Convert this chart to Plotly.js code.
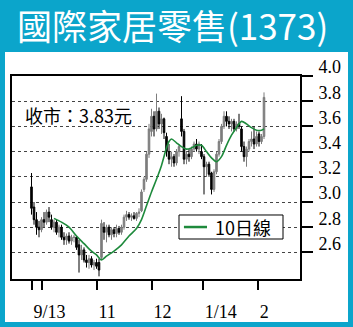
<!DOCTYPE html>
<html>
<head>
<meta charset="utf-8">
<script src="https://cdn.plot.ly/plotly-3.0.1.min.js"></script>
<style>html,body{margin:0;padding:0;background:#0ba5cb;}#chart{width:353px;height:327px;}</style>
</head>
<body>
<div id="chart"></div>
<script>
// Trading-day index of each candle
var dayIdx = [];
for (var k = 0; k < 94; k++) dayIdx.push(k);
var openP  = [3.12,2.96,2.86,2.80,2.78,2.86,2.84,2.92,2.86,2.80, 2.84,2.76,2.80,2.72,2.70,2.73,2.69,2.72,2.72,2.66, 2.58,2.62,2.54,2.52,2.55,2.50,2.52,2.52,2.56,2.80, 2.76,2.80,2.74,2.78,2.75,2.79,2.76,2.80,2.88,2.90, 2.88,2.89,2.87,2.91,2.93,3.10,3.18,3.38,3.56,3.68, 3.58,3.72,3.62,3.66,3.52,3.40,3.34,3.36,3.31,3.40, 3.66,3.56,3.34,3.38,3.36,3.42,3.46,3.42,3.40,3.36, 3.28,3.30,3.23,3.10,3.24,3.38,3.48,3.60,3.68,3.64, 3.62,3.64,3.58,3.62,3.58,3.44,3.36,3.42,3.48,3.50, 3.46,3.54,3.48,3.52];
var highP  = [3.23,3.00,2.92,2.85,2.88,2.92,2.94,2.96,2.90,2.86, 2.86,2.82,2.82,2.76,2.75,2.76,2.74,2.74,2.73,2.70, 2.66,2.64,2.58,2.58,2.57,2.54,2.55,2.55,2.86,2.84, 2.82,2.82,2.80,2.80,2.82,2.81,2.82,2.90,2.93,2.92, 2.91,2.92,2.92,2.95,3.10,3.20,3.40,3.62,3.74,3.72, 3.86,3.75,3.70,3.67,3.55,3.46,3.40,3.38,3.42,3.46, 3.84,3.58,3.40,3.42,3.44,3.48,3.50,3.48,3.46,3.38, 3.32,3.32,3.24,3.26,3.40,3.50,3.62,3.72,3.72,3.68, 3.66,3.66,3.64,3.70,3.60,3.48,3.44,3.50,3.56,3.60, 3.56,3.56,3.54,3.87];
var lowP   = [2.90,2.82,2.74,2.72,2.76,2.80,2.82,2.84,2.78,2.76, 2.74,2.72,2.70,2.66,2.66,2.67,2.66,2.68,2.62,2.44, 2.54,2.52,2.48,2.47,2.48,2.46,2.47,2.41,2.54,2.70, 2.68,2.72,2.70,2.72,2.72,2.74,2.74,2.78,2.85,2.86, 2.85,2.86,2.85,2.88,2.92,3.08,3.16,3.35,3.52,3.52, 3.56,3.58,3.54,3.50,3.36,3.30,3.28,3.28,3.29,3.36, 3.52,3.30,3.30,3.32,3.34,3.40,3.40,3.38,3.34,3.06, 3.20,3.20,3.06,3.08,3.22,3.36,3.46,3.58,3.60,3.58, 3.56,3.56,3.56,3.58,3.40,3.32,3.28,3.40,3.44,3.42, 3.44,3.44,3.46,3.50];
var closeP = [2.95,2.86,2.80,2.78,2.86,2.84,2.92,2.88,2.80,2.84, 2.76,2.80,2.72,2.70,2.73,2.69,2.72,2.72,2.64,2.58, 2.62,2.54,2.52,2.55,2.50,2.52,2.49,2.46,2.83,2.76, 2.80,2.74,2.78,2.75,2.79,2.76,2.80,2.88,2.90,2.88, 2.89,2.87,2.91,2.92,3.08,3.18,3.38,3.58,3.68,3.58, 3.72,3.62,3.66,3.55,3.40,3.34,3.36,3.31,3.40,3.44, 3.56,3.34,3.38,3.36,3.42,3.46,3.42,3.46,3.36,3.28, 3.30,3.22,3.10,3.24,3.38,3.48,3.60,3.68,3.64,3.62, 3.64,3.58,3.62,3.60,3.44,3.36,3.42,3.48,3.50,3.46, 3.52,3.48,3.52,3.83];
// 10-day moving average
var maIdx = [9,12,15,18,21,24,26,28,30,33,36,39,42,44,46,48,50,52,54,55,56,58,60,62,64,66,68,70,72,74,76,78,80,82,84,86,88,90,92,93];
var maVal = [2.87,2.84,2.80,2.73,2.67,2.61,2.58,2.54,2.57,2.61,2.66,2.73,2.79,2.86,2.97,3.08,3.18,3.29,3.43,3.48,3.50,3.47,3.44,3.42,3.43,3.45,3.45,3.40,3.35,3.32,3.36,3.45,3.53,3.59,3.64,3.62,3.59,3.57,3.57,3.58];
var yTicks = [2.6,2.8,3.0,3.2,3.4,3.6,3.8,4.0];
var yTickText = ['2.6','2.8','3.0','3.2','3.4','3.6','3.8','4.0'];
var xTicks = [0,4,26,48,68.5,90.5];
var xTickText = ['9/13','','11','12','1/14','2'];
var titleText = '國際家居零售(1373)';
var closeNote = '收市：3.83元';
var maName = '10日線';

var serif = 'Liberation Serif, DejaVu Serif, serif';
var cjk = 'Noto Sans CJK TC, Noto Sans, sans-serif';

var traces = [
  {type:'candlestick', x:dayIdx, open:openP, high:highP, low:lowP, close:closeP,
   increasing:{line:{color:'#7d7d7d',width:1}, fillcolor:'#7d7d7d'},
   decreasing:{line:{color:'#000000',width:1}, fillcolor:'#000000'},
   whiskerwidth:0, showlegend:false, hoverinfo:'skip'},
  {type:'scatter', mode:'lines', x:maIdx, y:maVal, name:maName,
   line:{color:'#1e8a3c', width:1.6, shape:'spline', smoothing:0.8}, showlegend:false}
];

var layout = {
  width:353, height:327,
  margin:{l:12, r:53, t:76, b:48},
  paper_bgcolor:'#0ba5cb', plot_bgcolor:'rgba(0,0,0,0)',
  showlegend:false,
  boxgap:0.1,
  title:{text:titleText, font:{family:cjk, size:35, color:'#ffffff'},
         x:0.489, xanchor:'center', y:0.915, yanchor:'middle', xref:'container', yref:'container'},
  xaxis:{range:[-7.8,107.4], tickvals:xTicks, ticktext:xTickText, ticks:'outside', ticklen:9, tickwidth:2,
         tickcolor:'#000', showgrid:false, zeroline:false, showline:true, linecolor:'#000', linewidth:2,
         mirror:true, rangeslider:{visible:false}, ticklabelposition:'outside right',
         tickfont:{family:serif, size:18, color:'#000'}, ticklabelstandoff:15, fixedrange:true},
  yaxis:{range:[2.389,4.0], side:'right', tickvals:yTicks, ticktext:yTickText, ticks:'outside', ticklen:11,
         tickwidth:2, tickcolor:'#000', showgrid:true, gridcolor:'#444', griddash:'dot', gridwidth:1,
         zeroline:false, showline:true, linecolor:'#000', linewidth:2, mirror:true, ticklabelshift:-9,
         ticklabelstandoff:2,
         tickfont:{family:serif, size:18, color:'#000'}, fixedrange:true},
  shapes:[
    {type:'rect', xref:'paper', yref:'paper', x0:-0.0243, x1:1.1667, y0:-0.2118, y1:1.118,
     fillcolor:'#ffffff', line:{width:0}, layer:'below'},
    {type:'rect', xref:'paper', yref:'paper', x0:0.5799, x1:0.941, y0:0.197, y1:0.3153,
     fillcolor:'#ffffff', line:{color:'#000', width:1}, layer:'above'},
    {type:'line', xref:'paper', yref:'paper', x0:0.597, x1:0.677, y0:0.256, y1:0.256,
     line:{color:'#1e8a3c', width:2.5}, layer:'above'}
  ],
  annotations:[
    {text:closeNote, xref:'paper', yref:'paper', x:0.038, y:0.808, xanchor:'left', yanchor:'middle',
     showarrow:false, font:{family:cjk, size:18, color:'#000'}},
    {text:maName, xref:'paper', yref:'paper', x:0.698, y:0.256, xanchor:'left', yanchor:'middle',
     showarrow:false, font:{family:cjk, size:18, color:'#000'}}
  ]
};
Plotly.newPlot('chart', traces, layout, {displayModeBar:false, staticPlot:true});
</script>
</body>
</html>
